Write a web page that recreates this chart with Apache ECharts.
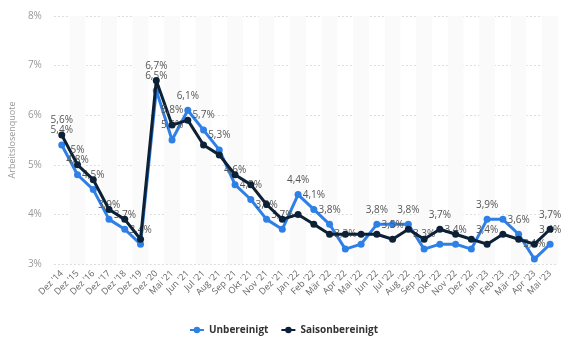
<!DOCTYPE html>
<html><head><meta charset="utf-8">
<script src="https://cdn.jsdelivr.net/npm/echarts@6/dist/echarts.min.js"></script>
<style>html,body{margin:0;padding:0;background:#fff}#c{width:567px;height:344px}</style>
</head><body><div id="c"></div>
<script>
const categories = ["Dez '14","Dez '15","Dez '16","Dez '17","Dez '18","Dez '19","Dez '20","Mai '21","Jun '21","Jul '21","Aug '21","Sep '21","Okt '21","Nov '21","Dez '21","Jan '22","Feb '22","Mär '22","Apr '22","Mai '22","Jun '22","Jul '22","Aug '22","Sep '22","Okt '22","Nov '22","Dez '22","Jan '23","Feb '23","Mär '23","Apr '23","Mai '23"];
const unbereinigt = [5.4,4.8,4.5,3.9,3.7,3.4,6.5,5.5,6.1,5.7,5.3,4.6,4.3,3.9,3.7,4.4,4.1,3.8,3.3,3.4,3.8,3.8,3.8,3.3,3.4,3.4,3.3,3.9,3.9,3.6,3.1,3.4];
const saisonbereinigt = [5.6,5.0,4.7,4.1,3.9,3.5,6.7,5.8,5.9,5.4,5.2,4.8,4.6,4.2,3.9,4.0,3.8,3.6,3.6,3.6,3.6,3.5,3.7,3.5,3.7,3.6,3.5,3.4,3.6,3.5,3.4,3.7];
const unbereinigtLabeled = [0,1,2,3,4,5,6,7,8,9,10,11,12,13,14,15,16,17,18,20,22,23,25,27,29,30,31];
const saisonLabeled = [0,1,6,7,21,24,27,31];
const seriesNames = ["Unbereinigt","Saisonbereinigt"];
const yTicks = [3,4,5,6,7,8];

const FONT = "'Open Sans', sans-serif";
const fmt = v => String(v).replace('.', ',') + '%';
function items(vals, labeled){
  return vals.map((v,i)=>({value:v, label:{show: labeled.indexOf(i)>=0}}));
}
const chart = echarts.init(document.getElementById('c'));
chart.setOption({
  animation:false,
  textStyle:{fontFamily:FONT},
  grid:{left:46,right:9,top:16,bottom:80},
  legend:{
    bottom:4,left:'center',itemWidth:14,itemHeight:8,itemGap:12,
    textStyle:{fontFamily:FONT,fontSize:10,fontWeight:'bold',color:'#333'},
    data:seriesNames
  },
  xAxis:{
    type:'category',data:categories,boundaryGap:true,
    axisLine:{show:false},axisTick:{show:false},
    axisLabel:{rotate:45,interval:0,fontSize:9,color:'#666',margin:8,fontFamily:FONT},
    splitArea:{show:true,areaStyle:{color:['rgba(255,255,255,0)','#fafafa']}},
    splitLine:{show:false}
  },
  yAxis:{
    type:'value',min:yTicks[0],max:yTicks[yTicks.length-1],interval:1,
    name:'Arbeitslosenquote',nameLocation:'middle',nameGap:31,
    nameTextStyle:{fontSize:9,color:'#999',fontFamily:FONT},
    axisLine:{show:false},axisTick:{show:false},
    axisLabel:{formatter:v=>v+'%',fontSize:10,color:'#999',margin:12,fontFamily:FONT},
    splitLine:{lineStyle:{color:'#ddd',type:[2,2],width:1}}
  },
  series:[
    {name:seriesNames[0],type:'line',data:items(unbereinigt,unbereinigtLabeled),
     symbol:'circle',symbolSize:7,color:'#2f80e6',lineStyle:{width:3},
     label:{position:'top',distance:6,formatter:p=>fmt(p.value),fontSize:10,color:'#555',fontFamily:FONT},
     z:3},
    {name:seriesNames[1],type:'line',data:items(saisonbereinigt,saisonLabeled),
     symbol:'circle',symbolSize:7,color:'#0d2136',lineStyle:{width:3},
     label:{position:'top',distance:6,formatter:p=>fmt(p.value),fontSize:10,color:'#555',fontFamily:FONT},
     z:4}
  ]
});
</script></body></html>
